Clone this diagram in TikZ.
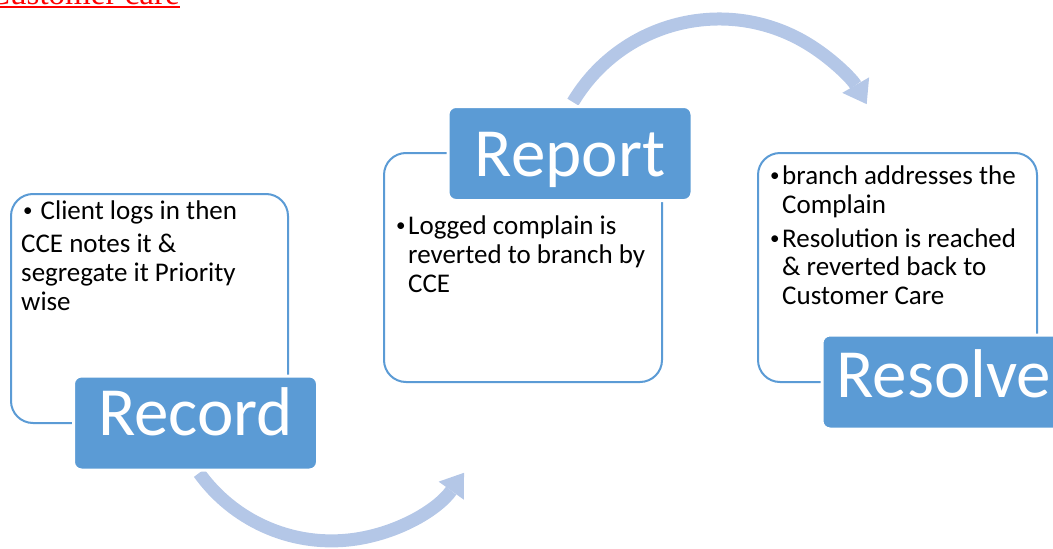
\documentclass[tikz,border=0pt]{standalone}
\usepackage{fontspec}
\setmainfont{Carlito}
\newfontfamily\titlefont{Liberation Serif}
\usetikzlibrary{arrows.meta}
\definecolor{accent}{HTML}{5B9BD5}
\definecolor{arrowblue}{HTML}{B4C7E7}
\definecolor{titlered}{HTML}{FF0000}
\newcommand{\mybul}{\makebox[13.4pt][c]{\raisebox{3pt}{\fontsize{19}{19}\selectfont •}}}
\begin{document}
\begin{tikzpicture}[x=1pt,y=1pt,
  outlinebox/.style={draw=accent, line width=2pt, rounded corners=22pt, inner sep=0pt},
  labelbox/.style={fill=accent, draw=white, line width=3pt, rounded corners=8pt, inner sep=0pt, text=white,
    font=\fontsize{69}{69}\selectfont, minimum width=244pt, minimum height=94pt, text height=50pt},
  bodytext/.style={anchor=base west, inner sep=0pt, align=left, font=\fontsize{27}{29}\selectfont},
  cyclearrow/.style={draw=arrowblue, line width=13pt, -{Triangle[width=31pt,length=22pt,line width=0pt]}}
]
\useasboundingbox (0,0) rectangle (1053,-549);
\clip (0,0) rectangle (1053,-549);

% title
\node[anchor=base west, inner sep=0pt, text=titlered, font=\titlefont\fontsize{33}{33}\selectfont] (title) at (-12,-4) {Customer care};
\draw[titlered, line width=2pt] ([yshift=-2.5pt]title.base west) -- ([yshift=-2.5pt]title.base east);

% cycle arrows
\coordinate (c1) at (331.5,-377.9);
\coordinate (c2) at (719.2,-189.3);
\draw[cyclearrow] ([shift={(215.7:163)}]c1) arc[start angle=215.7, end angle=324.4, radius=163];
\draw[cyclearrow] ([shift={(149.2:170.3)}]c2) arc[start angle=149.2, end angle=30, radius=170.3];

% outline boxes
\node[outlinebox, minimum width=277pt, minimum height=229pt] (recordbox) at (149.5,-308.5) {};
\node[outlinebox, minimum width=278pt, minimum height=229pt] (reportbox) at (523,-267.5) {};
\node[outlinebox, minimum width=279pt, minimum height=229pt] (resolvebox) at (897.5,-267.5) {};

% body texts (anchored at the baseline of the last line)
\node[bodytext] (recordtext) at (21,-310) {\mybul\ Client logs in then\\[4pt]CCE notes it \&\\segregate it Priority\\wise};
\node[bodytext] (reporttext) at (394,-292) {\makebox[14pt][l]{\mybul}Logged complain is\\\hspace*{14pt}reverted to branch by\\\hspace*{14pt}CCE};
\node[bodytext, font=\fontsize{27}{28.5}\selectfont] (resolvetext) at (768,-304) {\makebox[14pt][l]{\mybul}branch addresses the\\\hspace*{14pt}Complain\\[5.5pt]\makebox[14pt][l]{\mybul}Resolution is reached\\\hspace*{14pt}\& reverted back to\\\hspace*{14pt}Customer Care};

% label boxes
\node[labelbox, text depth=26pt] (record) at (195.5,-423) {Record};
\node[labelbox, text depth=4pt] (report) at (570,-153.5) {Report};
\node[labelbox, text depth=19pt] (resolve) at (944,-382) {Resolve};
\end{tikzpicture}
\end{document}
